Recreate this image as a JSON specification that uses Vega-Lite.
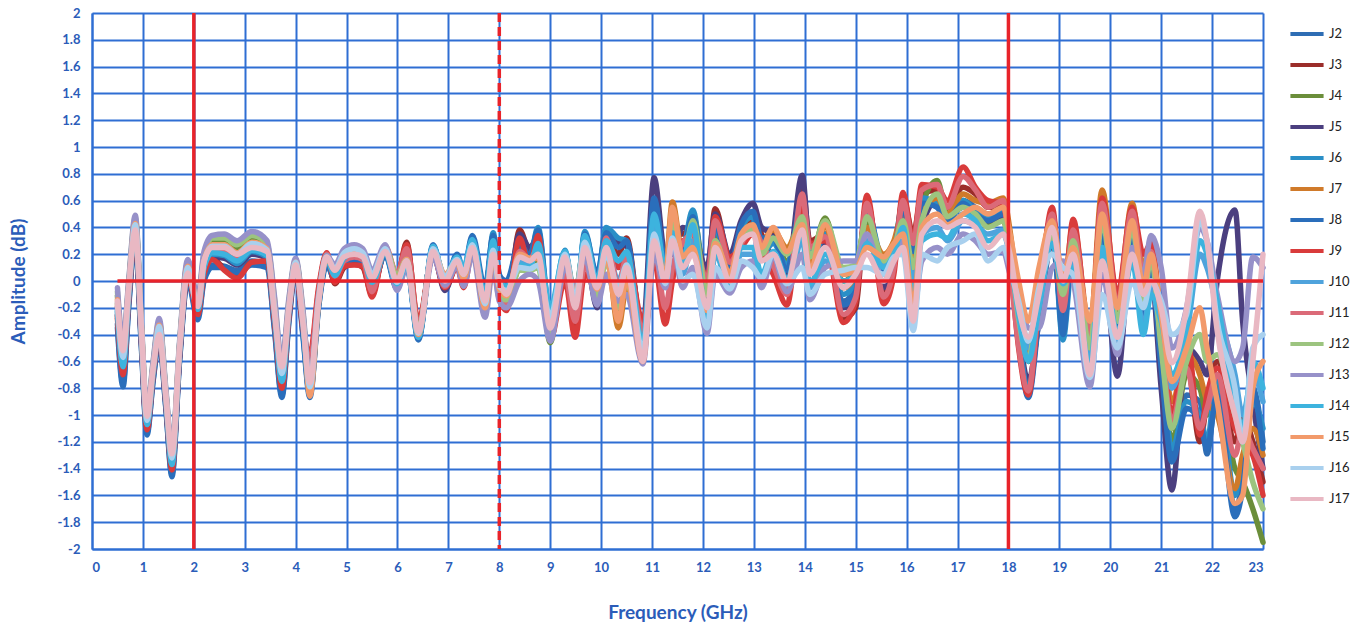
{
"$schema": "https://vega.github.io/schema/vega-lite/v6.json",
"width": 1171, "height": 536,
"autosize": {"type": "none"},
"padding": {"left": 92, "top": 13, "right": 93, "bottom": 82},
"background": "white",
"config": {"view": {"stroke": null}},
"layer": [
{
"data": {"values": [
{"f":0.5,"J2":-0.32,"J3":-0.26,"J4":-0.11,"J5":-0.25,"J6":-0.23,"J7":-0.17,"J8":-0.35,"J9":-0.28,"J10":-0.2,"J11":-0.19,"J12":-0.08,"J13":-0.05,"J14":-0.22,"J15":-0.14,"J16":-0.16,"J17":-0.15},
{"f":0.61,"J2":-0.76,"J3":-0.69,"J4":-0.52,"J5":-0.67,"J6":-0.65,"J7":-0.59,"J8":-0.79,"J9":-0.7,"J10":-0.62,"J11":-0.6,"J12":-0.48,"J13":-0.45,"J14":-0.64,"J15":-0.55,"J16":-0.57,"J17":-0.52},
{"f":0.72,"J2":-0.18,"J3":-0.14,"J4":-0.04,"J5":-0.13,"J6":-0.12,"J7":-0.08,"J8":-0.2,"J9":-0.15,"J10":-0.1,"J11":-0.09,"J12":-0.02,"J13":0.0,"J14":-0.11,"J15":-0.06,"J16":-0.07,"J17":-0.05},
{"f":0.85,"J2":0.32,"J3":0.36,"J4":0.45,"J5":0.37,"J6":0.38,"J7":0.41,"J8":0.3,"J9":0.35,"J10":0.4,"J11":0.4,"J12":0.47,"J13":0.49,"J14":0.39,"J15":0.43,"J16":0.42,"J17":0.38},
{"f":0.97,"J2":-0.48,"J3":-0.44,"J4":-0.34,"J5":-0.43,"J6":-0.42,"J7":-0.38,"J8":-0.5,"J9":-0.45,"J10":-0.4,"J11":-0.39,"J12":-0.32,"J13":-0.3,"J14":-0.41,"J15":-0.36,"J16":-0.37,"J17":-0.35},
{"f":1.08,"J2":-1.13,"J3":-1.1,"J4":-1.01,"J5":-1.09,"J6":-1.08,"J7":-1.05,"J8":-1.15,"J9":-1.11,"J10":-1.07,"J11":-1.06,"J12":-1.0,"J13":-0.98,"J14":-1.07,"J15":-1.03,"J16":-1.04,"J17":-1.01},
{"f":1.2,"J2":-0.74,"J3":-0.71,"J4":-0.63,"J5":-0.7,"J6":-0.69,"J7":-0.66,"J8":-0.75,"J9":-0.71,"J10":-0.68,"J11":-0.67,"J12":-0.61,"J13":-0.6,"J14":-0.68,"J15":-0.65,"J16":-0.65,"J17":-0.65},
{"f":1.32,"J2":-0.43,"J3":-0.4,"J4":-0.31,"J5":-0.39,"J6":-0.38,"J7":-0.35,"J8":-0.45,"J9":-0.41,"J10":-0.37,"J11":-0.36,"J12":-0.3,"J13":-0.28,"J14":-0.37,"J15":-0.33,"J16":-0.34,"J17":-0.4},
{"f":1.45,"J2":-0.94,"J3":-0.91,"J4":-0.83,"J5":-0.9,"J6":-0.89,"J7":-0.86,"J8":-0.95,"J9":-0.91,"J10":-0.88,"J11":-0.87,"J12":-0.82,"J13":-0.8,"J14":-0.88,"J15":-0.85,"J16":-0.85,"J17":-0.85},
{"f":1.57,"J2":-1.44,"J3":-1.4,"J4":-1.29,"J5":-1.39,"J6":-1.38,"J7":-1.33,"J8":-1.46,"J9":-1.41,"J10":-1.36,"J11":-1.34,"J12":-1.27,"J13":-1.25,"J14":-1.37,"J15":-1.31,"J16":-1.32,"J17":-1.29},
{"f":1.72,"J2":-0.59,"J3":-0.56,"J4":-0.48,"J5":-0.55,"J6":-0.54,"J7":-0.51,"J8":-0.6,"J9":-0.56,"J10":-0.53,"J11":-0.52,"J12":-0.47,"J13":-0.45,"J14":-0.53,"J15":-0.5,"J16":-0.5,"J17":-0.5},
{"f":1.88,"J2":0.02,"J3":0.05,"J4":0.13,"J5":0.06,"J6":0.06,"J7":0.1,"J8":0.0,"J9":0.04,"J10":0.08,"J11":0.09,"J12":0.14,"J13":0.16,"J14":0.07,"J15":0.11,"J16":0.1,"J17":0.06},
{"f":2.08,"J2":-0.27,"J3":-0.24,"J4":-0.15,"J5":-0.23,"J6":-0.22,"J7":-0.19,"J8":-0.29,"J9":-0.25,"J10":-0.21,"J11":-0.2,"J12":-0.14,"J13":-0.12,"J14":-0.21,"J15":-0.17,"J16":-0.18,"J17":-0.19},
{"f":2.2,"J2":0.02,"J3":0.07,"J4":0.18,"J5":0.08,"J6":0.09,"J7":0.13,"J8":0.0,"J9":0.05,"J10":0.11,"J11":0.12,"J12":0.2,"J13":0.22,"J14":0.1,"J15":0.15,"J16":0.14,"J17":0.15},
{"f":2.36,"J2":0.12,"J3":0.17,"J4":0.29,"J5":0.18,"J6":0.2,"J7":0.24,"J8":0.1,"J9":0.16,"J10":0.22,"J11":0.23,"J12":0.32,"J13":0.34,"J14":0.21,"J15":0.27,"J16":0.26,"J17":0.25},
{"f":2.6,"J2":0.11,"J3":0.09,"J4":0.3,"J5":0.17,"J6":0.19,"J7":0.24,"J8":0.1,"J9":0.08,"J10":0.22,"J11":0.23,"J12":0.32,"J13":0.35,"J14":0.2,"J15":0.27,"J16":0.26,"J17":0.25},
{"f":2.85,"J2":0.08,"J3":0.03,"J4":0.25,"J5":0.12,"J6":0.13,"J7":0.19,"J8":0.06,"J9":0.02,"J10":0.16,"J11":0.17,"J12":0.27,"J13":0.3,"J14":0.15,"J15":0.21,"J16":0.2,"J17":0.2},
{"f":3.14,"J2":0.15,"J3":0.14,"J4":0.32,"J5":0.2,"J6":0.22,"J7":0.27,"J8":0.12,"J9":0.14,"J10":0.24,"J11":0.25,"J12":0.34,"J13":0.37,"J14":0.23,"J15":0.29,"J16":0.28,"J17":0.25},
{"f":3.44,"J2":0.12,"J3":0.14,"J4":0.26,"J5":0.17,"J6":0.18,"J7":0.22,"J8":0.1,"J9":0.15,"J10":0.2,"J11":0.21,"J12":0.28,"J13":0.3,"J14":0.19,"J15":0.24,"J16":0.23,"J17":0.22},
{"f":3.58,"J2":-0.33,"J3":-0.28,"J4":-0.15,"J5":-0.26,"J6":-0.25,"J7":-0.2,"J8":-0.35,"J9":-0.29,"J10":-0.23,"J11":-0.21,"J12":-0.12,"J13":-0.1,"J14":-0.24,"J15":-0.18,"J16":-0.19,"J17":-0.22},
{"f":3.73,"J2":-0.85,"J3":-0.79,"J4":-0.65,"J5":-0.78,"J6":-0.76,"J7":-0.71,"J8":-0.87,"J9":-0.8,"J10":-0.74,"J11":-0.72,"J12":-0.63,"J13":-0.6,"J14":-0.75,"J15":-0.68,"J16":-0.69,"J17":-0.64},
{"f":3.87,"J2":-0.28,"J3":-0.25,"J4":-0.16,"J5":-0.24,"J6":-0.23,"J7":-0.19,"J8":-0.3,"J9":-0.26,"J10":-0.21,"J11":-0.2,"J12":-0.14,"J13":-0.12,"J14":-0.22,"J15":-0.18,"J16":-0.19,"J17":-0.2},
{"f":4.0,"J2":0.09,"J3":0.1,"J4":0.15,"J5":0.11,"J6":0.11,"J7":0.13,"J8":0.08,"J9":0.1,"J10":0.12,"J11":0.13,"J12":0.16,"J13":0.17,"J14":0.12,"J15":0.14,"J16":0.14,"J17":0.12},
{"f":4.14,"J2":-0.38,"J3":-0.34,"J4":-0.24,"J5":-0.33,"J6":-0.32,"J7":-0.28,"J8":-0.4,"J9":-0.35,"J10":-0.3,"J11":-0.29,"J12":-0.22,"J13":-0.2,"J14":-0.31,"J15":-0.26,"J16":-0.27,"J17":-0.3},
{"f":4.28,"J2":-0.85,"J3":-0.6,"J4":-0.8,"J5":-0.78,"J6":-0.82,"J7":-0.84,"J8":-0.87,"J9":-0.55,"J10":-0.8,"J11":-0.62,"J12":-0.78,"J13":-0.75,"J14":-0.83,"J15":-0.86,"J16":-0.79,"J17":-0.76},
{"f":4.45,"J2":-0.19,"J3":-0.08,"J4":-0.14,"J5":-0.15,"J6":-0.17,"J7":-0.16,"J8":-0.2,"J9":-0.05,"J10":-0.14,"J11":-0.09,"J12":-0.13,"J13":-0.12,"J14":-0.16,"J15":-0.17,"J16":-0.14,"J17":-0.15},
{"f":4.61,"J2":0.14,"J3":0.2,"J4":0.18,"J5":0.17,"J6":0.15,"J7":0.16,"J8":0.12,"J9":0.21,"J10":0.18,"J11":0.2,"J12":0.19,"J13":0.19,"J14":0.16,"J15":0.17,"J16":0.18,"J17":0.18},
{"f":4.77,"J2":0.0,"J3":-0.02,"J4":0.06,"J5":0.02,"J6":0.03,"J7":0.05,"J8":0.01,"J9":-0.01,"J10":0.07,"J11":0.04,"J12":0.1,"J13":0.12,"J14":0.04,"J15":0.08,"J16":0.09,"J17":0.08},
{"f":4.95,"J2":0.13,"J3":0.1,"J4":0.2,"J5":0.14,"J6":0.16,"J7":0.18,"J8":0.12,"J9":0.11,"J10":0.19,"J11":0.15,"J12":0.22,"J13":0.24,"J14":0.17,"J15":0.2,"J16":0.21,"J17":0.18},
{"f":5.15,"J2":0.15,"J3":0.13,"J4":0.24,"J5":0.17,"J6":0.2,"J7":0.22,"J8":0.16,"J9":0.12,"J10":0.23,"J11":0.18,"J12":0.25,"J13":0.27,"J14":0.21,"J15":0.22,"J16":0.24,"J17":0.2},
{"f":5.32,"J2":0.13,"J3":0.1,"J4":0.21,"J5":0.15,"J6":0.17,"J7":0.19,"J8":0.14,"J9":0.11,"J10":0.2,"J11":0.16,"J12":0.22,"J13":0.24,"J14":0.18,"J15":0.19,"J16":0.21,"J17":0.18},
{"f":5.5,"J2":-0.05,"J3":-0.1,"J4":0.04,"J5":-0.06,"J6":-0.03,"J7":0.0,"J8":-0.04,"J9":-0.12,"J10":0.02,"J11":-0.08,"J12":0.06,"J13":0.08,"J14":-0.01,"J15":0.03,"J16":0.05,"J17":0.02},
{"f":5.76,"J2":0.2,"J3":0.24,"J4":0.23,"J5":0.21,"J6":0.2,"J7":0.24,"J8":0.19,"J9":0.25,"J10":0.22,"J11":0.26,"J12":0.25,"J13":0.27,"J14":0.21,"J15":0.23,"J16":0.24,"J17":0.22},
{"f":5.99,"J2":-0.04,"J3":0.02,"J4":0.03,"J5":-0.02,"J6":-0.05,"J7":0.0,"J8":-0.06,"J9":0.04,"J10":-0.03,"J11":0.05,"J12":0.04,"J13":-0.07,"J14":-0.02,"J15":0.01,"J16":-0.01,"J17":0.0},
{"f":6.18,"J2":0.14,"J3":0.29,"J4":0.15,"J5":0.22,"J6":0.13,"J7":0.17,"J8":0.12,"J9":0.27,"J10":0.14,"J11":0.24,"J12":0.16,"J13":0.1,"J14":0.13,"J15":0.16,"J16":0.15,"J17":0.15},
{"f":6.41,"J2":-0.42,"J3":-0.33,"J4":-0.36,"J5":-0.35,"J6":-0.43,"J7":-0.4,"J8":-0.44,"J9":-0.3,"J10":-0.41,"J11":-0.34,"J12":-0.37,"J13":-0.39,"J14":-0.42,"J15":-0.4,"J16":-0.39,"J17":-0.38},
{"f":6.7,"J2":0.25,"J3":0.22,"J4":0.23,"J5":0.2,"J6":0.26,"J7":0.24,"J8":0.27,"J9":0.19,"J10":0.25,"J11":0.21,"J12":0.22,"J13":0.18,"J14":0.26,"J15":0.23,"J16":0.24,"J17":0.22},
{"f":6.93,"J2":-0.02,"J3":-0.06,"J4":0.02,"J5":-0.07,"J6":0.0,"J7":0.01,"J8":-0.01,"J9":-0.05,"J10":0.03,"J11":-0.04,"J12":0.04,"J13":-0.03,"J14":0.02,"J15":0.05,"J16":0.03,"J17":0.0},
{"f":7.17,"J2":0.17,"J3":0.13,"J4":0.16,"J5":0.12,"J6":0.18,"J7":0.15,"J8":0.2,"J9":0.1,"J10":0.17,"J11":0.12,"J12":0.16,"J13":0.11,"J14":0.18,"J15":0.14,"J16":0.16,"J17":0.15},
{"f":7.3,"J2":0.05,"J3":0.0,"J4":0.06,"J5":-0.03,"J6":0.07,"J7":0.03,"J8":0.08,"J9":-0.05,"J10":0.06,"J11":-0.02,"J12":0.04,"J13":-0.04,"J14":0.1,"J15":0.02,"J16":0.05,"J17":0.05},
{"f":7.47,"J2":0.3,"J3":0.28,"J4":0.25,"J5":0.24,"J6":0.32,"J7":0.27,"J8":0.34,"J9":0.22,"J10":0.29,"J11":0.23,"J12":0.26,"J13":0.2,"J14":0.31,"J15":0.26,"J16":0.27,"J17":0.25},
{"f":7.72,"J2":-0.1,"J3":-0.13,"J4":-0.2,"J5":-0.08,"J6":-0.12,"J7":-0.22,"J8":-0.05,"J9":-0.14,"J10":-0.16,"J11":-0.18,"J12":-0.24,"J13":-0.27,"J14":-0.11,"J15":-0.2,"J16":-0.17,"J17":-0.15},
{"f":7.88,"J2":0.33,"J3":0.28,"J4":0.18,"J5":0.3,"J6":0.36,"J7":0.22,"J8":0.34,"J9":0.25,"J10":0.27,"J11":0.21,"J12":0.15,"J13":0.1,"J14":0.3,"J15":0.19,"J16":0.23,"J17":0.2},
{"f":8.0,"J2":0.05,"J3":-0.05,"J4":-0.1,"J5":-0.03,"J6":0.02,"J7":-0.08,"J8":0.04,"J9":-0.12,"J10":-0.02,"J11":-0.1,"J12":-0.13,"J13":-0.15,"J14":0.0,"J15":-0.06,"J16":-0.04,"J17":0.0},
{"f":8.14,"J2":-0.05,"J3":-0.2,"J4":-0.15,"J5":-0.12,"J6":-0.02,"J7":-0.18,"J8":0.0,"J9":-0.22,"J10":-0.08,"J11":-0.16,"J12":-0.14,"J13":-0.2,"J14":-0.04,"J15":-0.11,"J16":-0.07,"J17":-0.1},
{"f":8.4,"J2":0.3,"J3":0.38,"J4":0.1,"J5":0.35,"J6":0.25,"J7":0.2,"J8":0.28,"J9":0.32,"J10":0.15,"J11":0.22,"J12":0.08,"J13":0.0,"J14":0.12,"J15":0.2,"J16":0.1,"J17":0.18},
{"f":8.6,"J2":0.2,"J3":0.22,"J4":0.12,"J5":0.25,"J6":0.18,"J7":0.14,"J8":0.19,"J9":0.1,"J10":0.13,"J11":0.16,"J12":0.08,"J13":0.05,"J14":0.1,"J15":0.17,"J16":0.09,"J17":0.15},
{"f":8.76,"J2":0.36,"J3":0.3,"J4":0.15,"J5":0.33,"J6":0.4,"J7":0.18,"J8":0.38,"J9":0.34,"J10":0.22,"J11":0.25,"J12":0.1,"J13":0.0,"J14":0.28,"J15":0.17,"J16":0.12,"J17":0.2},
{"f":9.0,"J2":-0.3,"J3":-0.4,"J4":-0.46,"J5":-0.38,"J6":-0.25,"J7":-0.42,"J8":-0.28,"J9":-0.44,"J10":-0.3,"J11":-0.36,"J12":-0.43,"J13":-0.45,"J14":-0.2,"J15":-0.33,"J16":-0.27,"J17":-0.35},
{"f":9.29,"J2":0.15,"J3":0.08,"J4":0.2,"J5":0.12,"J6":0.23,"J7":0.14,"J8":0.17,"J9":0.0,"J10":0.21,"J11":0.05,"J12":0.16,"J13":0.1,"J14":0.22,"J15":0.19,"J16":0.2,"J17":0.18},
{"f":9.49,"J2":-0.2,"J3":-0.35,"J4":-0.12,"J5":-0.28,"J6":-0.25,"J7":-0.15,"J8":-0.22,"J9":-0.42,"J10":-0.1,"J11":-0.3,"J12":-0.08,"J13":-0.05,"J14":-0.18,"J15":-0.12,"J16":-0.14,"J17":-0.2},
{"f":9.68,"J2":0.32,"J3":0.15,"J4":0.3,"J5":0.22,"J6":0.37,"J7":0.28,"J8":0.35,"J9":0.05,"J10":0.3,"J11":0.12,"J12":0.27,"J13":0.18,"J14":0.34,"J15":0.26,"J16":0.29,"J17":0.25},
{"f":9.92,"J2":-0.02,"J3":-0.15,"J4":-0.1,"J5":-0.2,"J6":0.02,"J7":-0.12,"J8":0.05,"J9":-0.05,"J10":-0.08,"J11":-0.1,"J12":-0.14,"J13":-0.18,"J14":0.0,"J15":-0.06,"J16":-0.04,"J17":-0.05},
{"f":10.1,"J2":0.38,"J3":0.34,"J4":0.2,"J5":0.3,"J6":0.4,"J7":0.22,"J8":0.36,"J9":0.28,"J10":0.25,"J11":0.32,"J12":0.15,"J13":0.05,"J14":0.3,"J15":0.18,"J16":0.2,"J17":0.25},
{"f":10.34,"J2":0.3,"J3":0.2,"J4":-0.25,"J5":0.28,"J6":0.32,"J7":-0.35,"J8":0.25,"J9":0.1,"J10":0.0,"J11":-0.05,"J12":-0.2,"J13":-0.15,"J14":0.15,"J15":-0.3,"J16":-0.05,"J17":-0.1},
{"f":10.5,"J2":0.28,"J3":0.32,"J4":0.05,"J5":0.26,"J6":0.3,"J7":-0.05,"J8":0.3,"J9":0.2,"J10":0.15,"J11":0.18,"J12":0.0,"J13":-0.1,"J14":0.22,"J15":0.02,"J16":0.12,"J17":0.1},
{"f":10.82,"J2":-0.45,"J3":-0.4,"J4":-0.55,"J5":-0.35,"J6":-0.5,"J7":-0.58,"J8":-0.42,"J9":-0.3,"J10":-0.52,"J11":-0.38,"J12":-0.56,"J13":-0.62,"J14":-0.48,"J15":-0.6,"J16":-0.53,"J17":-0.6},
{"f":11.04,"J2":0.55,"J3":0.45,"J4":0.35,"J5":0.77,"J6":0.6,"J7":0.3,"J8":0.62,"J9":0.15,"J10":0.4,"J11":0.25,"J12":0.28,"J13":0.2,"J14":0.5,"J15":0.32,"J16":0.35,"J17":0.3},
{"f":11.26,"J2":0.1,"J3":0.05,"J4":0.05,"J5":0.2,"J6":0.12,"J7":0.08,"J8":0.15,"J9":-0.32,"J10":0.02,"J11":-0.2,"J12":0.0,"J13":-0.05,"J14":0.1,"J15":0.03,"J16":-0.02,"J17":0.0},
{"f":11.4,"J2":0.3,"J3":0.35,"J4":0.4,"J5":0.2,"J6":0.38,"J7":0.59,"J8":0.25,"J9":0.0,"J10":0.33,"J11":0.1,"J12":0.45,"J13":0.28,"J14":0.36,"J15":0.55,"J16":0.32,"J17":0.3},
{"f":11.6,"J2":0.2,"J3":0.35,"J4":0.15,"J5":0.4,"J6":0.25,"J7":0.2,"J8":0.22,"J9":0.3,"J10":0.05,"J11":0.28,"J12":0.12,"J13":-0.05,"J14":0.15,"J15":0.18,"J16":0.0,"J17":0.1},
{"f":11.8,"J2":0.45,"J3":0.4,"J4":0.5,"J5":0.35,"J6":0.53,"J7":0.3,"J8":0.48,"J9":0.25,"J10":0.3,"J11":0.35,"J12":0.45,"J13":0.1,"J14":0.42,"J15":0.25,"J16":0.05,"J17":0.2},
{"f":12.08,"J2":-0.1,"J3":0.05,"J4":-0.05,"J5":0.1,"J6":-0.15,"J7":-0.25,"J8":-0.12,"J9":-0.02,"J10":-0.3,"J11":0.0,"J12":-0.1,"J13":-0.39,"J14":-0.28,"J15":-0.22,"J16":-0.35,"J17":-0.2},
{"f":12.24,"J2":0.45,"J3":0.54,"J4":0.35,"J5":0.5,"J6":0.4,"J7":0.3,"J8":0.42,"J9":0.48,"J10":0.2,"J11":0.45,"J12":0.3,"J13":0.05,"J14":0.22,"J15":0.28,"J16":0.1,"J17":0.25},
{"f":12.53,"J2":0.1,"J3":0.15,"J4":0.05,"J5":0.2,"J6":0.08,"J7":0.12,"J8":0.1,"J9":0.18,"J10":-0.05,"J11":0.14,"J12":0.02,"J13":-0.09,"J14":-0.03,"J15":0.06,"J16":-0.06,"J17":0.0},
{"f":12.75,"J2":0.38,"J3":0.3,"J4":0.35,"J5":0.45,"J6":0.4,"J7":0.33,"J8":0.42,"J9":0.25,"J10":0.2,"J11":0.28,"J12":0.3,"J13":0.1,"J14":0.25,"J15":0.35,"J16":0.15,"J17":0.3},
{"f":12.98,"J2":0.45,"J3":0.5,"J4":0.42,"J5":0.58,"J6":0.48,"J7":0.4,"J8":0.52,"J9":0.35,"J10":0.2,"J11":0.4,"J12":0.38,"J13":0.15,"J14":0.25,"J15":0.42,"J16":0.1,"J17":0.35},
{"f":13.15,"J2":0.3,"J3":0.35,"J4":0.25,"J5":0.4,"J6":0.2,"J7":0.3,"J8":0.32,"J9":0.22,"J10":0.0,"J11":0.28,"J12":0.2,"J13":-0.05,"J14":0.05,"J15":0.25,"J16":0.02,"J17":0.15},
{"f":13.38,"J2":0.3,"J3":0.15,"J4":0.3,"J5":0.35,"J6":0.28,"J7":0.38,"J8":0.32,"J9":0.05,"J10":0.15,"J11":0.12,"J12":0.32,"J13":0.18,"J14":0.22,"J15":0.4,"J16":0.2,"J17":0.2},
{"f":13.65,"J2":0.1,"J3":0.0,"J4":0.15,"J5":0.05,"J6":0.12,"J7":0.25,"J8":0.08,"J9":-0.18,"J10":-0.05,"J11":-0.1,"J12":0.2,"J13":-0.08,"J14":0.02,"J15":0.22,"J16":-0.02,"J17":0.0},
{"f":13.95,"J2":0.6,"J3":0.72,"J4":0.5,"J5":0.79,"J6":0.55,"J7":0.45,"J8":0.62,"J9":0.58,"J10":0.3,"J11":0.65,"J12":0.48,"J13":0.2,"J14":0.35,"J15":0.42,"J16":0.1,"J17":0.38},
{"f":14.1,"J2":0.2,"J3":0.3,"J4":0.15,"J5":0.25,"J6":0.1,"J7":0.12,"J8":0.22,"J9":0.28,"J10":-0.05,"J11":0.25,"J12":0.18,"J13":-0.14,"J14":-0.02,"J15":0.08,"J16":-0.1,"J17":0.05},
{"f":14.4,"J2":0.3,"J3":0.35,"J4":0.47,"J5":0.28,"J6":0.35,"J7":0.4,"J8":0.32,"J9":0.3,"J10":0.15,"J11":0.33,"J12":0.45,"J13":0.1,"J14":0.2,"J15":0.42,"J16":0.05,"J17":0.25},
{"f":14.76,"J2":-0.15,"J3":-0.28,"J4":0.0,"J5":-0.2,"J6":-0.1,"J7":-0.05,"J8":-0.18,"J9":-0.31,"J10":0.05,"J11":-0.25,"J12":0.1,"J13":0.15,"J14":0.0,"J15":0.05,"J16":0.08,"J17":-0.05},
{"f":15.0,"J2":-0.05,"J3":-0.2,"J4":0.1,"J5":-0.1,"J6":0.0,"J7":0.05,"J8":-0.08,"J9":-0.15,"J10":0.1,"J11":-0.12,"J12":0.12,"J13":0.15,"J14":0.05,"J15":0.08,"J16":0.1,"J17":0.05},
{"f":15.22,"J2":0.5,"J3":0.6,"J4":0.45,"J5":0.55,"J6":0.52,"J7":0.4,"J8":0.55,"J9":0.64,"J10":0.3,"J11":0.58,"J12":0.48,"J13":0.35,"J14":0.28,"J15":0.25,"J16":0.1,"J17":0.2},
{"f":15.55,"J2":0.05,"J3":-0.1,"J4":0.1,"J5":-0.05,"J6":0.15,"J7":0.2,"J8":0.08,"J9":-0.17,"J10":0.12,"J11":-0.12,"J12":0.15,"J13":0.0,"J14":0.1,"J15":0.18,"J16":0.05,"J17":0.0},
{"f":15.75,"J2":0.2,"J3":0.12,"J4":0.22,"J5":0.15,"J6":0.25,"J7":0.3,"J8":0.2,"J9":0.05,"J10":0.22,"J11":0.1,"J12":0.25,"J13":0.15,"J14":0.2,"J15":0.28,"J16":0.18,"J17":0.15},
{"f":15.93,"J2":0.55,"J3":0.62,"J4":0.5,"J5":0.45,"J6":0.58,"J7":0.52,"J8":0.55,"J9":0.66,"J10":0.4,"J11":0.6,"J12":0.45,"J13":0.3,"J14":0.4,"J15":0.35,"J16":0.2,"J17":0.25},
{"f":16.13,"J2":0.25,"J3":0.35,"J4":0.2,"J5":0.05,"J6":0.3,"J7":0.15,"J8":0.22,"J9":0.3,"J10":0.0,"J11":0.28,"J12":0.1,"J13":-0.25,"J14":-0.1,"J15":-0.2,"J16":-0.37,"J17":-0.3},
{"f":16.3,"J2":0.6,"J3":0.65,"J4":0.55,"J5":0.4,"J6":0.62,"J7":0.5,"J8":0.58,"J9":0.72,"J10":0.35,"J11":0.68,"J12":0.45,"J13":0.15,"J14":0.3,"J15":0.4,"J16":0.2,"J17":0.35},
{"f":16.6,"J2":0.55,"J3":0.68,"J4":0.75,"J5":0.6,"J6":0.58,"J7":0.62,"J8":0.55,"J9":0.7,"J10":0.4,"J11":0.72,"J12":0.65,"J13":0.25,"J14":0.35,"J15":0.5,"J16":0.15,"J17":0.45},
{"f":16.8,"J2":0.45,"J3":0.55,"J4":0.5,"J5":0.48,"J6":0.42,"J7":0.5,"J8":0.45,"J9":0.6,"J10":0.3,"J11":0.55,"J12":0.48,"J13":0.2,"J14":0.32,"J15":0.42,"J16":0.25,"J17":0.4},
{"f":17.11,"J2":0.6,"J3":0.7,"J4":0.6,"J5":0.55,"J6":0.6,"J7":0.65,"J8":0.58,"J9":0.85,"J10":0.45,"J11":0.78,"J12":0.55,"J13":0.35,"J14":0.5,"J15":0.5,"J16":0.3,"J17":0.45},
{"f":17.35,"J2":0.55,"J3":0.65,"J4":0.5,"J5":0.48,"J6":0.52,"J7":0.6,"J8":0.5,"J9":0.7,"J10":0.42,"J11":0.68,"J12":0.5,"J13":0.3,"J14":0.45,"J15":0.55,"J16":0.35,"J17":0.4},
{"f":17.6,"J2":0.5,"J3":0.55,"J4":0.42,"J5":0.45,"J6":0.48,"J7":0.58,"J8":0.45,"J9":0.6,"J10":0.35,"J11":0.55,"J12":0.4,"J13":0.2,"J14":0.3,"J15":0.5,"J16":0.15,"J17":0.25},
{"f":17.9,"J2":0.5,"J3":0.55,"J4":0.45,"J5":0.48,"J6":0.52,"J7":0.62,"J8":0.5,"J9":0.58,"J10":0.38,"J11":0.6,"J12":0.45,"J13":0.22,"J14":0.35,"J15":0.55,"J16":0.25,"J17":0.35},
{"f":18.03,"J2":0.3,"J3":0.25,"J4":0.2,"J5":0.22,"J6":0.32,"J7":0.38,"J8":0.28,"J9":0.15,"J10":0.2,"J11":0.12,"J12":0.22,"J13":0.05,"J14":0.18,"J15":0.35,"J16":0.1,"J17":0.2},
{"f":18.2,"J2":-0.4,"J3":-0.45,"J4":-0.3,"J5":-0.35,"J6":-0.38,"J7":-0.15,"J8":-0.42,"J9":-0.5,"J10":-0.2,"J11":-0.48,"J12":-0.28,"J13":-0.1,"J14":-0.25,"J15":0.0,"J16":-0.15,"J17":-0.2},
{"f":18.39,"J2":-0.85,"J3":-0.8,"J4":-0.6,"J5":-0.75,"J6":-0.82,"J7":-0.55,"J8":-0.87,"J9":-0.85,"J10":-0.5,"J11":-0.82,"J12":-0.58,"J13":-0.35,"J14":-0.6,"J15":-0.3,"J16":-0.45,"J17":-0.42},
{"f":18.6,"J2":-0.25,"J3":-0.2,"J4":-0.15,"J5":-0.3,"J6":-0.22,"J7":0.0,"J8":-0.28,"J9":-0.18,"J10":-0.12,"J11":-0.15,"J12":-0.1,"J13":-0.35,"J14":-0.2,"J15":0.1,"J16":-0.05,"J17":-0.1},
{"f":18.86,"J2":0.45,"J3":0.52,"J4":0.38,"J5":0.3,"J6":0.42,"J7":0.48,"J8":0.45,"J9":0.55,"J10":0.3,"J11":0.5,"J12":0.35,"J13":0.1,"J14":0.28,"J15":0.45,"J16":0.2,"J17":0.4},
{"f":19.07,"J2":-0.35,"J3":-0.25,"J4":-0.15,"J5":-0.3,"J6":-0.44,"J7":-0.1,"J8":-0.4,"J9":-0.2,"J10":-0.05,"J11":-0.22,"J12":-0.1,"J13":0.15,"J14":-0.02,"J15":0.05,"J16":0.1,"J17":0.0},
{"f":19.27,"J2":0.3,"J3":0.4,"J4":0.35,"J5":0.25,"J6":0.2,"J7":0.42,"J8":0.28,"J9":0.46,"J10":0.15,"J11":0.38,"J12":0.3,"J13":0.0,"J14":0.1,"J15":0.25,"J16":0.05,"J17":0.2},
{"f":19.6,"J2":-0.5,"J3":-0.45,"J4":-0.4,"J5":-0.7,"J6":-0.55,"J7":-0.35,"J8":-0.52,"J9":-0.42,"J10":-0.6,"J11":-0.4,"J12":-0.5,"J13":-0.79,"J14":-0.65,"J15":-0.3,"J16":-0.72,"J17":-0.7},
{"f":19.84,"J2":0.4,"J3":0.55,"J4":0.6,"J5":0.2,"J6":0.35,"J7":0.68,"J8":0.38,"J9":0.62,"J10":0.2,"J11":0.58,"J12":0.45,"J13":0.05,"J14":0.25,"J15":0.5,"J16":-0.1,"J17":0.15},
{"f":20.14,"J2":-0.3,"J3":-0.2,"J4":-0.25,"J5":-0.71,"J6":-0.35,"J7":-0.15,"J8":-0.32,"J9":-0.1,"J10":-0.45,"J11":-0.18,"J12":-0.3,"J13":-0.55,"J14":-0.4,"J15":-0.2,"J16":-0.5,"J17":-0.42},
{"f":20.43,"J2":0.35,"J3":0.5,"J4":0.45,"J5":0.3,"J6":0.38,"J7":0.58,"J8":0.35,"J9":0.55,"J10":0.2,"J11":0.52,"J12":0.4,"J13":0.25,"J14":0.15,"J15":0.45,"J16":0.0,"J17":0.2},
{"f":20.65,"J2":-0.25,"J3":0.0,"J4":-0.1,"J5":-0.2,"J6":-0.3,"J7":0.1,"J8":-0.28,"J9":0.2,"J10":-0.35,"J11":0.05,"J12":-0.15,"J13":0.05,"J14":-0.4,"J15":-0.05,"J16":-0.2,"J17":-0.1},
{"f":20.8,"J2":0.1,"J3":0.25,"J4":0.15,"J5":0.05,"J6":0.12,"J7":0.3,"J8":0.1,"J9":0.28,"J10":-0.05,"J11":0.22,"J12":0.18,"J13":0.34,"J14":-0.1,"J15":0.2,"J16":0.0,"J17":0.0},
{"f":21.0,"J2":-0.6,"J3":-0.4,"J4":-0.5,"J5":-0.8,"J6":-0.55,"J7":-0.3,"J8":-0.65,"J9":-0.35,"J10":-0.4,"J11":-0.45,"J12":-0.5,"J13":0.1,"J14":-0.3,"J15":-0.25,"J16":-0.15,"J17":-0.2},
{"f":21.21,"J2":-1.3,"J3":-1.1,"J4":-1.2,"J5":-1.56,"J6":-1.25,"J7":-0.9,"J8":-1.35,"J9":-1.0,"J10":-0.8,"J11":-1.05,"J12":-1.1,"J13":-0.5,"J14":-0.7,"J15":-0.75,"J16":-0.4,"J17":-0.61},
{"f":21.5,"J2":-0.85,"J3":-0.6,"J4":-0.7,"J5":-0.5,"J6":-0.9,"J7":-0.55,"J8":-0.95,"J9":-0.4,"J10":-0.4,"J11":-0.65,"J12":-0.6,"J13":-0.2,"J14":-0.35,"J15":-0.5,"J16":-0.25,"J17":-0.2},
{"f":21.76,"J2":-0.9,"J3":-1.2,"J4":-0.8,"J5":-0.6,"J6":-1.0,"J7":-0.7,"J8":-1.05,"J9":-1.15,"J10":0.2,"J11":-1.1,"J12":-0.4,"J13":0.4,"J14":0.3,"J15":-0.2,"J16":0.45,"J17":0.52},
{"f":21.9,"J2":-1.29,"J3":-0.9,"J4":-1.0,"J5":-0.7,"J6":-1.2,"J7":-0.9,"J8":-1.25,"J9":-0.85,"J10":0.1,"J11":-0.95,"J12":-0.6,"J13":0.3,"J14":0.2,"J15":-0.5,"J16":0.3,"J17":0.3},
{"f":22.1,"J2":-0.8,"J3":-0.6,"J4":-0.75,"J5":0.0,"J6":-0.7,"J7":-1.0,"J8":-0.85,"J9":-0.65,"J10":-0.2,"J11":-0.7,"J12":-0.55,"J13":-0.1,"J14":-0.15,"J15":-0.9,"J16":-0.3,"J17":-0.37},
{"f":22.45,"J2":-1.7,"J3":-1.2,"J4":-1.4,"J5":0.53,"J6":-1.6,"J7":-1.55,"J8":-1.76,"J9":-1.1,"J10":-0.7,"J11":-1.3,"J12":-1.0,"J13":-0.6,"J14":-0.9,"J15":-1.66,"J16":-0.8,"J17":-1.0},
{"f":22.6,"J2":-1.5,"J3":-1.0,"J4":-1.5,"J5":-0.3,"J6":-1.4,"J7":-1.3,"J8":-1.55,"J9":-1.2,"J10":-1.0,"J11":-1.1,"J12":-1.2,"J13":-0.5,"J14":-1.1,"J15":-1.6,"J16":-1.2,"J17":-1.2},
{"f":22.8,"J2":-0.8,"J3":-1.2,"J4":-1.7,"J5":-0.9,"J6":-0.9,"J7":-1.1,"J8":-0.85,"J9":-1.3,"J10":-0.7,"J11":-1.25,"J12":-1.5,"J13":0.18,"J14":-0.6,"J15":-0.8,"J16":-0.5,"J17":-0.6},
{"f":23.0,"J2":-1.2,"J3":-1.5,"J4":-1.95,"J5":-1.4,"J6":-1.1,"J7":-1.3,"J8":-1.25,"J9":-1.6,"J10":-0.9,"J11":-1.4,"J12":-1.7,"J13":0.1,"J14":-0.8,"J15":-0.6,"J16":-0.4,"J17":0.2}
]},
"transform": [{"fold": ["J2","J3","J4","J5","J6","J7","J8","J9","J10","J11","J12","J13","J14","J15","J16","J17"], "as": ["series","amp"]}],
"mark": {"type": "line", "strokeWidth": 5.5, "interpolate": "monotone", "strokeCap": "round", "strokeJoin": "round"},
"encoding": {
"x": {"field": "f", "type": "quantitative", "scale": {"domain": [0, 23], "nice": false},
 "axis": {"title": "Frequency (GHz)", "tickCount": 23, "grid": true, "gridColor": "#2F6ED3", "gridWidth": 2, "gridOpacity": 1, "domainColor": "#2F6ED3", "domainWidth": 2, "ticks": false, "labelColor": "#2B5CB9", "labelFont": "Lato", "labelFontWeight": "bold", "labelFontSize": 13, "labelPadding": 12, "titleColor": "#2B5CB9", "titleFont": "Lato", "titleFontWeight": "bold", "titleFontSize": 19, "titleY": 63, "titleBaseline": "middle"}},
"y": {"field": "amp", "type": "quantitative", "scale": {"domain": [-2, 2], "nice": false},
 "axis": {"title": "Amplitude (dB)", "tickCount": 20, "labelExpr": "replace(format(datum.value, '~g'), '\u2212', '-')", "grid": true, "gridColor": "#2F6ED3", "gridWidth": 2, "gridOpacity": 1, "domainColor": "#2F6ED3", "domainWidth": 2, "ticks": false, "labelColor": "#2B5CB9", "labelFont": "Lato", "labelFontWeight": "bold", "labelFontSize": 13, "labelPadding": 12, "titleColor": "#2B5CB9", "titleFont": "Lato", "titleFontWeight": "bold", "titleFontSize": 19, "titleX": -74, "titleY": 268, "titleBaseline": "middle", "titleAlign": "center"}},
"color": {"field": "series", "type": "nominal",
 "scale": {"domain": ["J2","J3","J4","J5","J6","J7","J8","J9","J10","J11","J12","J13","J14","J15","J16","J17"],
  "range": ["#2E6DB4","#9B2D2A","#6B8E3A","#4B3F7F","#2A8FC7","#D07A2A","#2A6EBB","#D93B3B","#4FA3DC","#DB6A78","#9CC47F","#9791C9","#3DB3DE","#F29A6B","#A9D0EE","#E9B8C3"]},
 "legend": {"title": null, "orient": "none", "legendX": 1196, "legendY": 2, "symbolType": "stroke", "symbolStrokeWidth": 4, "symbolSize": 1100, "labelFont": "Lato", "labelFontSize": 13, "labelColor": "#222222", "labelOffset": 3, "rowPadding": 4}}
}
},
{"data": {"values": [{"f": 2}, {"f": 18}]}, "mark": {"type": "rule", "color": "#E8232A", "strokeWidth": 3.5}, "encoding": {"x": {"field": "f", "type": "quantitative"}}},
{"data": {"values": [{"f": 8}]}, "mark": {"type": "rule", "color": "#E8232A", "strokeWidth": 3.5, "strokeDash": [9, 5]}, "encoding": {"x": {"field": "f", "type": "quantitative"}}},
{"data": {"values": [{"f": 0.5, "f1": 23, "amp": 0}]}, "mark": {"type": "rule", "color": "#E8232A", "strokeWidth": 3.5}, "encoding": {"x": {"field": "f", "type": "quantitative"}, "x2": {"field": "f1"}, "y": {"field": "amp", "type": "quantitative"}}}
]
}
